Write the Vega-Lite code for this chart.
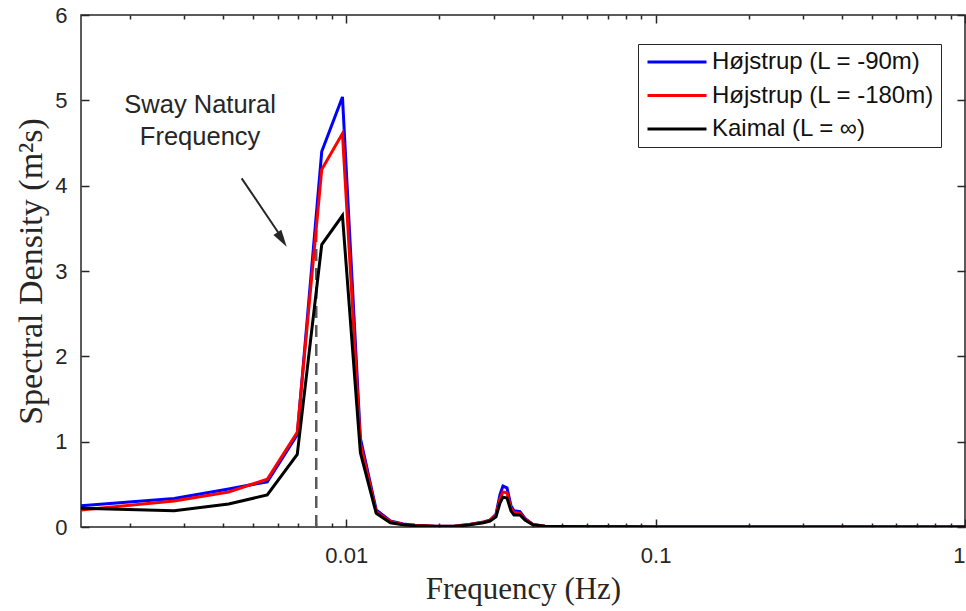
{
  "$schema": "https://vega.github.io/schema/vega-lite/v6.json",
  "width": 884,
  "height": 512,
  "autosize": "none",
  "padding": {"left": 81, "top": 15, "right": 1, "bottom": 84},
  "background": "white",
  "config": {
    "view": {"stroke": "#262626", "strokeWidth": 1.5},
    "axis": {
      "domain": false,
      "tickColor": "#262626",
      "labelColor": "#262626",
      "titleColor": "#262626",
      "labelFont": "Liberation Sans",
      "labelFontSize": 22,
      "titleFont": "Liberation Serif",
      "titleFontSize": 31,
      "titleFontWeight": "normal",
      "grid": false,
      "tickWidth": 1.5
    }
  },
  "datasets": {
    "spec": [
      {"f": 0.0013889, "v": 0.25, "s": "Højstrup (L = -90m)"},
      {"f": 0.0027778, "v": 0.335, "s": "Højstrup (L = -90m)"},
      {"f": 0.0041667, "v": 0.445, "s": "Højstrup (L = -90m)"},
      {"f": 0.0055556, "v": 0.53, "s": "Højstrup (L = -90m)"},
      {"f": 0.0069444, "v": 1.08, "s": "Højstrup (L = -90m)"},
      {"f": 0.0083333, "v": 4.40, "s": "Højstrup (L = -90m)"},
      {"f": 0.0097222, "v": 5.04, "s": "Højstrup (L = -90m)"},
      {"f": 0.0111111, "v": 1.04, "s": "Højstrup (L = -90m)"},
      {"f": 0.0125, "v": 0.20, "s": "Højstrup (L = -90m)"},
      {"f": 0.0138889, "v": 0.07, "s": "Højstrup (L = -90m)"},
      {"f": 0.0152778, "v": 0.035, "s": "Højstrup (L = -90m)"},
      {"f": 0.0166667, "v": 0.02, "s": "Højstrup (L = -90m)"},
      {"f": 0.0194444, "v": 0.01, "s": "Højstrup (L = -90m)"},
      {"f": 0.0222222, "v": 0.01, "s": "Højstrup (L = -90m)"},
      {"f": 0.025, "v": 0.03, "s": "Højstrup (L = -90m)"},
      {"f": 0.0277778, "v": 0.06, "s": "Højstrup (L = -90m)"},
      {"f": 0.029148, "v": 0.08, "s": "Højstrup (L = -90m)"},
      {"f": 0.030479, "v": 0.15, "s": "Højstrup (L = -90m)"},
      {"f": 0.031397, "v": 0.38, "s": "Højstrup (L = -90m)"},
      {"f": 0.032106, "v": 0.48, "s": "Højstrup (L = -90m)"},
      {"f": 0.033076, "v": 0.46, "s": "Højstrup (L = -90m)"},
      {"f": 0.034075, "v": 0.25, "s": "Højstrup (L = -90m)"},
      {"f": 0.034844, "v": 0.19, "s": "Højstrup (L = -90m)"},
      {"f": 0.036435, "v": 0.18, "s": "Højstrup (L = -90m)"},
      {"f": 0.037818, "v": 0.10, "s": "Højstrup (L = -90m)"},
      {"f": 0.040136, "v": 0.03, "s": "Højstrup (L = -90m)"},
      {"f": 0.043891, "v": 0.01, "s": "Højstrup (L = -90m)"},
      {"f": 0.04908, "v": 0.005, "s": "Højstrup (L = -90m)"},
      {"f": 0.06, "v": 0.003, "s": "Højstrup (L = -90m)"},
      {"f": 0.08, "v": 0.002, "s": "Højstrup (L = -90m)"},
      {"f": 0.1, "v": 0.001, "s": "Højstrup (L = -90m)"},
      {"f": 0.2, "v": 0.001, "s": "Højstrup (L = -90m)"},
      {"f": 0.5, "v": 0.0005, "s": "Højstrup (L = -90m)"},
      {"f": 1.0, "v": 0.0003, "s": "Højstrup (L = -90m)"},

      {"f": 0.0013889, "v": 0.20, "s": "Højstrup (L = -180m)"},
      {"f": 0.0027778, "v": 0.305, "s": "Højstrup (L = -180m)"},
      {"f": 0.0041667, "v": 0.41, "s": "Højstrup (L = -180m)"},
      {"f": 0.0055556, "v": 0.56, "s": "Højstrup (L = -180m)"},
      {"f": 0.0069444, "v": 1.11, "s": "Højstrup (L = -180m)"},
      {"f": 0.0083333, "v": 4.19, "s": "Højstrup (L = -180m)"},
      {"f": 0.0097222, "v": 4.61, "s": "Højstrup (L = -180m)"},
      {"f": 0.0111111, "v": 0.98, "s": "Højstrup (L = -180m)"},
      {"f": 0.0125, "v": 0.18, "s": "Højstrup (L = -180m)"},
      {"f": 0.0138889, "v": 0.065, "s": "Højstrup (L = -180m)"},
      {"f": 0.0152778, "v": 0.03, "s": "Højstrup (L = -180m)"},
      {"f": 0.0166667, "v": 0.02, "s": "Højstrup (L = -180m)"},
      {"f": 0.0194444, "v": 0.01, "s": "Højstrup (L = -180m)"},
      {"f": 0.0222222, "v": 0.01, "s": "Højstrup (L = -180m)"},
      {"f": 0.025, "v": 0.03, "s": "Højstrup (L = -180m)"},
      {"f": 0.0277778, "v": 0.055, "s": "Højstrup (L = -180m)"},
      {"f": 0.029148, "v": 0.08, "s": "Højstrup (L = -180m)"},
      {"f": 0.030479, "v": 0.14, "s": "Højstrup (L = -180m)"},
      {"f": 0.031397, "v": 0.33, "s": "Højstrup (L = -180m)"},
      {"f": 0.032106, "v": 0.41, "s": "Højstrup (L = -180m)"},
      {"f": 0.033076, "v": 0.40, "s": "Højstrup (L = -180m)"},
      {"f": 0.034075, "v": 0.22, "s": "Højstrup (L = -180m)"},
      {"f": 0.034844, "v": 0.17, "s": "Højstrup (L = -180m)"},
      {"f": 0.036435, "v": 0.16, "s": "Højstrup (L = -180m)"},
      {"f": 0.037818, "v": 0.09, "s": "Højstrup (L = -180m)"},
      {"f": 0.040136, "v": 0.03, "s": "Højstrup (L = -180m)"},
      {"f": 0.043891, "v": 0.01, "s": "Højstrup (L = -180m)"},
      {"f": 0.04908, "v": 0.005, "s": "Højstrup (L = -180m)"},
      {"f": 0.06, "v": 0.003, "s": "Højstrup (L = -180m)"},
      {"f": 0.08, "v": 0.002, "s": "Højstrup (L = -180m)"},
      {"f": 0.1, "v": 0.001, "s": "Højstrup (L = -180m)"},
      {"f": 0.2, "v": 0.001, "s": "Højstrup (L = -180m)"},
      {"f": 0.5, "v": 0.0005, "s": "Højstrup (L = -180m)"},
      {"f": 1.0, "v": 0.0003, "s": "Højstrup (L = -180m)"},

      {"f": 0.0013889, "v": 0.22, "s": "Kaimal (L = ∞)"},
      {"f": 0.0027778, "v": 0.19, "s": "Kaimal (L = ∞)"},
      {"f": 0.0041667, "v": 0.27, "s": "Kaimal (L = ∞)"},
      {"f": 0.0055556, "v": 0.375, "s": "Kaimal (L = ∞)"},
      {"f": 0.0069444, "v": 0.85, "s": "Kaimal (L = ∞)"},
      {"f": 0.0083333, "v": 3.31, "s": "Kaimal (L = ∞)"},
      {"f": 0.0097222, "v": 3.65, "s": "Kaimal (L = ∞)"},
      {"f": 0.0111111, "v": 0.87, "s": "Kaimal (L = ∞)"},
      {"f": 0.0125, "v": 0.16, "s": "Kaimal (L = ∞)"},
      {"f": 0.0138889, "v": 0.05, "s": "Kaimal (L = ∞)"},
      {"f": 0.0152778, "v": 0.025, "s": "Kaimal (L = ∞)"},
      {"f": 0.0166667, "v": 0.015, "s": "Kaimal (L = ∞)"},
      {"f": 0.0194444, "v": 0.005, "s": "Kaimal (L = ∞)"},
      {"f": 0.0222222, "v": 0.005, "s": "Kaimal (L = ∞)"},
      {"f": 0.025, "v": 0.025, "s": "Kaimal (L = ∞)"},
      {"f": 0.0277778, "v": 0.05, "s": "Kaimal (L = ∞)"},
      {"f": 0.029148, "v": 0.07, "s": "Kaimal (L = ∞)"},
      {"f": 0.030479, "v": 0.12, "s": "Kaimal (L = ∞)"},
      {"f": 0.031397, "v": 0.28, "s": "Kaimal (L = ∞)"},
      {"f": 0.032106, "v": 0.35, "s": "Kaimal (L = ∞)"},
      {"f": 0.033076, "v": 0.34, "s": "Kaimal (L = ∞)"},
      {"f": 0.034075, "v": 0.19, "s": "Kaimal (L = ∞)"},
      {"f": 0.034844, "v": 0.14, "s": "Kaimal (L = ∞)"},
      {"f": 0.036435, "v": 0.14, "s": "Kaimal (L = ∞)"},
      {"f": 0.037818, "v": 0.08, "s": "Kaimal (L = ∞)"},
      {"f": 0.040136, "v": 0.025, "s": "Kaimal (L = ∞)"},
      {"f": 0.043891, "v": 0.01, "s": "Kaimal (L = ∞)"},
      {"f": 0.04908, "v": 0.005, "s": "Kaimal (L = ∞)"},
      {"f": 0.06, "v": 0.003, "s": "Kaimal (L = ∞)"},
      {"f": 0.08, "v": 0.002, "s": "Kaimal (L = ∞)"},
      {"f": 0.1, "v": 0.001, "s": "Kaimal (L = ∞)"},
      {"f": 0.2, "v": 0.001, "s": "Kaimal (L = ∞)"},
      {"f": 0.5, "v": 0.0005, "s": "Kaimal (L = ∞)"},
      {"f": 1.0, "v": 0.0003, "s": "Kaimal (L = ∞)"}
    ],
    "marker": [{"f": 0.008, "y0": 0, "y1": 3.55}],
    "arrow": [{"f0": 0.004592, "v0": 4.086, "f1": 0.006198, "v1": 3.387}],
    "head": [{"f": 0.00642, "v": 3.285}],
    "note": [
      {"f": 0.00337, "v": 4.945, "t": "Sway Natural"},
      {"f": 0.00337, "v": 4.570, "t": "Frequency"}
    ]
  },
  "layer": [
    {
      "data": {"name": "marker"},
      "mark": {"type": "rule", "strokeDash": [12, 7], "strokeWidth": 2.5, "color": "#5a5a5a"},
      "encoding": {
        "x": {
          "field": "f", "type": "quantitative",
          "scale": {"type": "log", "domain": [0.0013889, 1], "nice": false},
          "axis": {
            "orient": "bottom",
            "values": [0.01, 0.1, 1],
            "offset": -8,
            "tickSize": 8,
            "labels": false,
            "title": null
          }
        },
        "y": {
          "field": "y0", "type": "quantitative",
          "scale": {"domain": [0, 6], "nice": false},
          "axis": {
            "orient": "left",
            "values": [0, 1, 2, 3, 4, 5, 6],
            "offset": -8,
            "tickSize": 8,
            "labels": false,
            "title": null
          }
        },
        "y2": {"field": "y1"}
      }
    },
    {
      "data": {"name": "spec"},
      "mark": {"type": "line", "strokeWidth": 3, "clip": true},
      "encoding": {
        "x": {
          "field": "f", "type": "quantitative",
          "scale": {"type": "log", "domain": [0.0013889, 1], "nice": false},
          "axis": {
            "orient": "bottom",
            "values": [0.01, 0.1, 1],
            "format": "~g",
            "ticks": false,
            "labelPadding": 18,
            "title": "Frequency (Hz)",
            "titlePadding": 8
          }
        },
        "y": {
          "field": "v", "type": "quantitative",
          "scale": {"domain": [0, 6], "nice": false, "zero": true},
          "axis": {
            "orient": "left",
            "values": [0, 1, 2, 3, 4, 5, 6],
            "ticks": false,
            "labelPadding": 14,
            "title": "Spectral Density (m²s)",
            "titleFontSize": 34,
            "titlePadding": 6
          }
        },
        "color": {
          "field": "s", "type": "nominal",
          "scale": {
            "domain": ["Højstrup (L = -90m)", "Højstrup (L = -180m)", "Kaimal (L = ∞)"],
            "range": ["#0000ff", "#ff0000", "#000000"]
          },
          "legend": {
            "orient": "none",
            "legendX": 557,
            "legendY": 29,
            "title": null,
            "symbolType": "M-3,0H3",
            "symbolSize": 387,
            "symbolStrokeWidth": 3,
            "symbolOffset": 21,
            "labelOffset": 23,
            "labelFont": "Liberation Sans",
            "labelFontSize": 24,
            "labelColor": "#111111",
            "labelLimit": 400,
            "rowPadding": 9.5,
            "padding": 6,
            "strokeColor": "#262626",
            "fillColor": "white"
          }
        }
      }
    },
    {
      "data": {"name": "arrow"},
      "mark": {"type": "rule", "strokeWidth": 2, "color": "#262626"},
      "encoding": {
        "x": {
          "field": "f0", "type": "quantitative",
          "scale": {"type": "log", "domain": [0.0013889, 1], "nice": false},
          "axis": {
            "orient": "bottom",
            "values": [0.002, 0.003, 0.004, 0.005, 0.006, 0.007, 0.008, 0.009, 0.02, 0.03, 0.04, 0.05, 0.06, 0.07, 0.08, 0.09, 0.2, 0.3, 0.4, 0.5, 0.6, 0.7, 0.8, 0.9],
            "offset": -4,
            "tickSize": 4,
            "labels": false,
            "title": null
          }
        },
        "x2": {"field": "f1"},
        "y": {
          "field": "v0", "type": "quantitative",
          "scale": {"domain": [0, 6], "nice": false},
          "axis": {
            "orient": "right",
            "values": [0, 1, 2, 3, 4, 5, 6],
            "offset": -8,
            "tickSize": 8,
            "labels": false,
            "title": null
          }
        },
        "y2": {"field": "v1"}
      }
    },
    {
      "data": {"name": "head"},
      "mark": {"type": "point", "shape": "M0,0L0.5,1.8L-0.5,1.8Z", "size": 357, "angle": 146.7, "filled": true, "color": "#262626", "opacity": 1},
      "encoding": {
        "x": {
          "field": "f", "type": "quantitative",
          "scale": {"type": "log", "domain": [0.0013889, 1], "nice": false},
          "axis": {
            "orient": "top",
            "values": [0.01, 0.1, 1],
            "offset": -8,
            "tickSize": 8,
            "labels": false,
            "title": null
          }
        },
        "y": {"field": "v", "type": "quantitative", "scale": {"domain": [0, 6], "nice": false}, "axis": null}
      }
    },
    {
      "data": {"name": "note"},
      "mark": {"type": "text", "font": "Liberation Sans", "fontSize": 25.5, "color": "#262626", "align": "center", "baseline": "middle"},
      "encoding": {
        "x": {
          "field": "f", "type": "quantitative",
          "scale": {"type": "log", "domain": [0.0013889, 1], "nice": false},
          "axis": {
            "orient": "top",
            "values": [0.002, 0.003, 0.004, 0.005, 0.006, 0.007, 0.008, 0.009, 0.02, 0.03, 0.04, 0.05, 0.06, 0.07, 0.08, 0.09, 0.2, 0.3, 0.4, 0.5, 0.6, 0.7, 0.8, 0.9],
            "offset": -4,
            "tickSize": 4,
            "labels": false,
            "title": null
          }
        },
        "y": {"field": "v", "type": "quantitative", "scale": {"domain": [0, 6], "nice": false}, "axis": null},
        "text": {"field": "t"}
      }
    }
  ],
  "resolve": {"axis": {"x": "independent", "y": "independent"}}
}
